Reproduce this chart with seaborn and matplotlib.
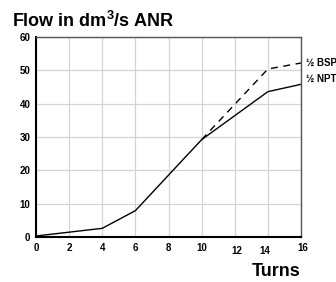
import matplotlib
matplotlib.use("Agg")
import matplotlib.pyplot as plt
import matplotlib.transforms as mtrans
import seaborn as sns
import pandas as pd

turns_npt = [0, 4, 6, 10, 14, 16]
flow_npt = [0.3, 2.6, 7.9, 29.2, 43.6, 45.8]
turns_bsp = [10, 14, 16]
flow_bsp = [29.2, 50.4, 52.2]
series_labels = ["½ BSP", "½ NPT"]
x_ticks = [0, 2, 4, 6, 8, 10, 12, 14, 16]
y_ticks = [0, 10, 20, 30, 40, 50, 60]

sns.set_style("white")
plt.rcParams['font.family'] = ['Liberation Sans', 'DejaVu Sans']
plt.rcParams['mathtext.fontset'] = 'custom'
plt.rcParams['mathtext.rm'] = 'Liberation Sans:bold'
plt.rcParams['mathtext.bf'] = 'Liberation Sans:bold'
plt.rcParams['mathtext.it'] = 'Liberation Sans:bold'
plt.rcParams['text.color'] = 'black'
plt.rcParams['xtick.color'] = 'black'
plt.rcParams['ytick.color'] = 'black'
plt.rcParams['xtick.labelcolor'] = 'black'
plt.rcParams['ytick.labelcolor'] = 'black'

fig = plt.figure(figsize=(3.36, 2.82), dpi=100)
ax = fig.add_axes([36/336, 45/282, 265/336, 200/282])

df_npt = pd.DataFrame({"t": turns_npt, "f": flow_npt})
df_bsp = pd.DataFrame({"t": turns_bsp, "f": flow_bsp})
sns.lineplot(data=df_bsp, x="t", y="f", ax=ax, color="black", lw=1.0,
             linestyle=(0, (5, 4)))
sns.lineplot(data=df_npt, x="t", y="f", ax=ax, color="black", lw=1.0)

ax.set_xlim(0, 16)
ax.set_ylim(0, 60)
ax.set_xticks(x_ticks)
ax.set_yticks(y_ticks)
ax.set_xticklabels([str(v) for v in x_ticks], fontsize=7, fontweight="bold", color="black")
ax.set_yticklabels([str(v) for v in y_ticks], fontsize=7, fontweight="bold", color="black")
ax.tick_params(length=0, pad=4)
ax.grid(True, color="#d4d4d4", lw=0.9)
ax.set_axisbelow(True)
ax.set_xlabel("")
ax.set_ylabel("")

for s in ["left", "bottom"]:
    ax.spines[s].set_color("black")
    ax.spines[s].set_linewidth(1.5)
for s in ["top", "right"]:
    ax.spines[s].set_color("#555555")
    ax.spines[s].set_linewidth(1.0)

offsets = {12: (2, -3), 14: (-3, -3), 16: (2, 0)}
for lab, v in zip(ax.get_xticklabels(), x_ticks):
    if v in offsets:
        dx, dy = offsets[v]
        lab.set_transform(lab.get_transform() + mtrans.ScaledTranslation(dx/100, dy/100, fig.dpi_scale_trans))

ax.text(1.02, flow_bsp[-1], series_labels[0], transform=ax.get_yaxis_transform(),
        fontsize=7, fontweight="bold", va="center", ha="left", clip_on=False, color="black")
ax.text(1.02, flow_npt[-1] + 1.5, series_labels[1], transform=ax.get_yaxis_transform(),
        fontsize=7, fontweight="bold", va="center", ha="left", clip_on=False, color="black")

fig.text(12/336, 1 - 27/282, r"Flow in dm$^{3}$/s ANR", fontsize=13, fontweight="bold",
         ha="left", va="baseline", color="black")
fig.text(300/336, 1 - 276/282, "Turns", fontsize=13, fontweight="bold",
         ha="right", va="baseline", color="black")

fig.savefig("out.png", dpi=100)
